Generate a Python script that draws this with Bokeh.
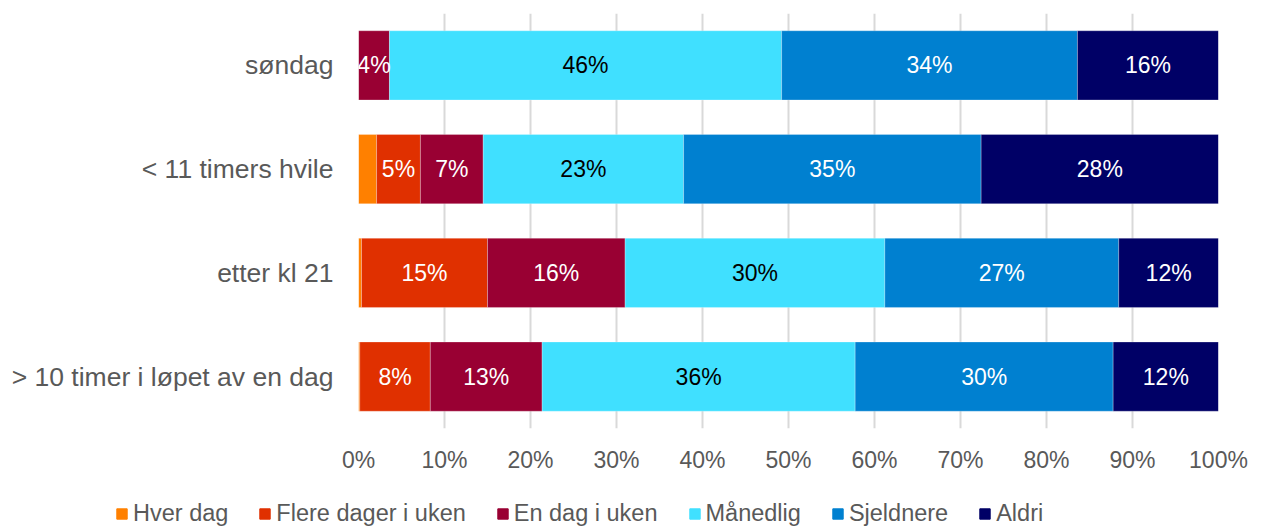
from bokeh.plotting import figure
from bokeh.layouts import column
from bokeh.models import ColumnDataSource, FactorRange, FixedTicker, PrintfTickFormatter, Legend, LegendItem, LabelSet
from bokeh.core.properties import value
from bokeh.embed import file_html
from bokeh.resources import INLINE

categories = ["søndag", "< 11 timers hvile", "etter kl 21", "> 10 timer i løpet av en dag"]
series = ["Hver dag", "Flere dager i uken", "En dag i uken", "Månedlig", "Sjeldnere", "Aldri"]
hver_dag = [0.0, 2.1, 0.35, 0.15]
flere_dager = [0.0, 5.1, 14.65, 8.2]
en_dag = [3.6, 7.3, 16.0, 13.0]
maanedlig = [45.6, 23.3, 30.2, 36.4]
sjeldnere = [34.4, 34.6, 27.2, 30.0]
aldri = [16.4, 27.6, 11.6, 12.25]
colors = ["#FF8000", "#E03000", "#990033", "#40E0FF", "#0080D0", "#000066"]
label_colors = ["white", "white", "white", "black", "white", "white"]
x_ticks = list(range(0, 101, 10))

values = [hver_dag, flere_dager, en_dag, maanedlig, sjeldnere, aldri]
keys = ["s%d" % i for i in range(len(series))]
data = {"cat": categories}
for k, v in zip(keys, values):
    data[k] = v
source = ColumnDataSource(data)

FONT = "Liberation Sans"
TXT = "#595959"

p = figure(width=1254, height=475, output_backend="svg", toolbar_location=None,
           y_range=FactorRange(*reversed(categories)), x_range=(0, 100),
           min_border_left=358, min_border_right=36, min_border_top=13, min_border_bottom=42)
p.outline_line_color = None
p.frame_align = False

rs = p.hbar_stack(keys, y="cat", height=0.667, color=colors, source=source,
                  line_color="white", line_alpha=0.25, line_width=1)

# labels
lx, ly, lt, lc = [], [], [], []
for j, cat in enumerate(categories):
    cum = 0.0
    for i, v in enumerate(values):
        val = v[j]
        if val >= 3:
            lx.append(cum + val / 2)
            ly.append(cat)
            lt.append("%d%%" % round(val))
            lc.append(label_colors[i])
        cum += val
lsrc = ColumnDataSource(dict(x=lx, y=ly, t=lt, c=lc))
labels = LabelSet(x="x", y="y", text="t", source=lsrc, text_color="c",
                  text_align="center", text_baseline="middle",
                  text_font=value(FONT), text_font_size=value("23px"))
p.add_layout(labels)

p.xaxis.ticker = FixedTicker(ticks=x_ticks)
p.xaxis.formatter = PrintfTickFormatter(format="%d%%")
p.xaxis.axis_line_color = None
p.xaxis.major_tick_line_color = None
p.xaxis.minor_tick_line_color = None
p.xaxis.major_label_standoff = 12
p.xaxis.major_label_text_font = FONT
p.xaxis.major_label_text_font_size = "23px"
p.xaxis.major_label_text_color = TXT

p.yaxis.axis_line_color = None
p.yaxis.major_tick_line_color = None
p.yaxis.major_label_standoff = 19
p.yaxis.major_label_text_font = FONT
p.yaxis.major_label_text_font_size = "26.5px"
p.yaxis.major_label_text_color = TXT

p.xgrid.ticker = FixedTicker(ticks=x_ticks)
p.xgrid.grid_line_color = "#d9d9d9"
p.xgrid.grid_line_width = 2
p.ygrid.grid_line_color = None

# legend strip below the chart
lp = figure(width=1254, height=52, output_backend="svg", toolbar_location=None,
            x_range=(0, 100), y_range=FactorRange(*reversed(categories)),
            x_axis_type=None, y_axis_type=None,
            min_border_left=0, min_border_right=0, min_border_top=0, min_border_bottom=0)
lp.frame_align = False
lp.outline_line_color = None
lp.grid.visible = False
lrs = lp.hbar_stack(keys, y="cat", height=0.667, color=colors, source=source)
for r in lrs:
    r.visible = False

items = [LegendItem(label=s, renderers=[r]) for s, r in zip(series, lrs)]
legend = Legend(items=items, orientation="horizontal", location=(115, 0),
                label_text_font=FONT, label_text_font_size="23.5px", label_text_color=TXT,
                glyph_width=13, glyph_height=13, label_standoff=5, spacing=30,
                border_line_color=None, background_fill_alpha=0, padding=0, margin=0)
lp.add_layout(legend, "center")

layout = column(p, lp, spacing=0)
open("out.html", "w").write(file_html(layout, INLINE))
